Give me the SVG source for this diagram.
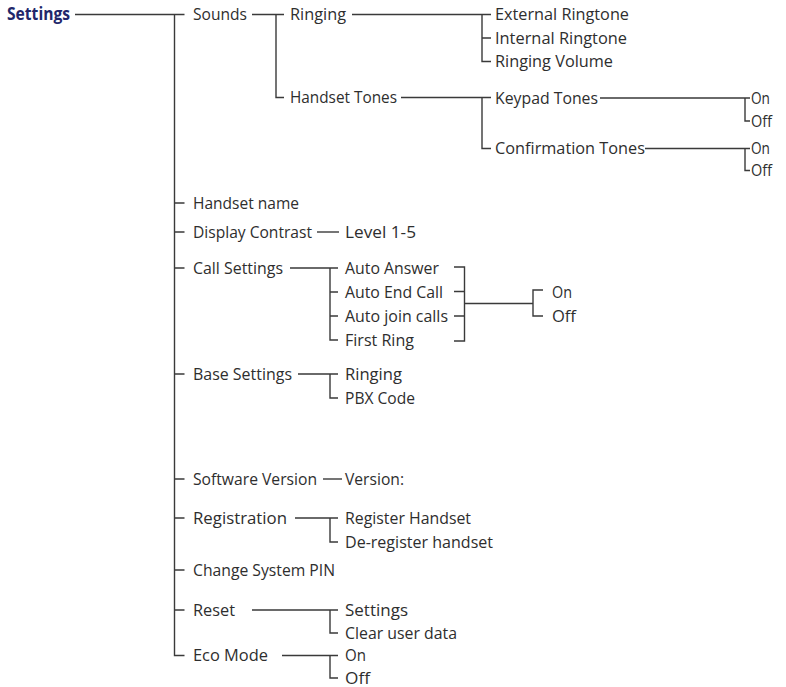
<svg xmlns="http://www.w3.org/2000/svg" width="786" height="687" viewBox="0 0 786 687">
<style>
text{font-family:"Open Sans","Noto Sans","Liberation Sans",sans-serif;font-size:17.2px;fill:#2e2e2e}
.root{font-weight:bold;fill:#22276a}
.c{fill:none;stroke:#3a3a3a;stroke-width:1.4}
</style>
<rect width="786" height="687" fill="#ffffff"/>
<g id="connectors" class="c">
<path d="M75 14.5H184.5M174.5 14.5V655.5H184.5M174.5 203H184.5M174.5 232H184.5M174.5 268H184.5M174.5 374H184.5M174.5 479H184.5M174.5 518H184.5M174.5 570H184.5M174.5 610H184.5"/>
<path d="M252 14.5H284M276 14.5V97.5H284"/>
<path d="M352 14.5H491M482 14.5V61.5H491M482 38H491"/>
<path d="M401 97.5H491M482 97.5V148.5H491"/>
<path d="M600 98H750M745 98V121H750"/>
<path d="M645 148.5H750M745 148.5V170.5H750"/>
<path d="M317 232H339"/>
<path d="M290 268H338M330 268V340H338M330 292H338M330 316H338"/>
<path d="M454 267H464.5V341H454M454 291.5H464.5M454 316H464.5M464.5 303.5H533M543 290H533V316H543"/>
<path d="M298 374H338M330 374V398H338"/>
<path d="M323 479H342"/>
<path d="M295 518H338M330 518V542H338"/>
<path d="M252 610H338M330 610V633H338"/>
<path d="M282 655.5H338M330 655.5V678H338"/>
</g>
<g id="n-settings"><text class="root" x="7" y="20" textLength="63" lengthAdjust="spacingAndGlyphs">Settings</text></g>
<g id="n-sounds"><text x="193" y="20" textLength="54" lengthAdjust="spacingAndGlyphs">Sounds</text></g>
<g id="n-ringing"><text x="290" y="20" textLength="56" lengthAdjust="spacingAndGlyphs">Ringing</text></g>
<g id="n-handset-tones"><text x="290" y="103" textLength="107" lengthAdjust="spacingAndGlyphs">Handset Tones</text></g>
<g id="n-external-ringtone"><text x="495" y="20" textLength="134" lengthAdjust="spacingAndGlyphs">External Ringtone</text></g>
<g id="n-internal-ringtone"><text x="495" y="43.5" textLength="132" lengthAdjust="spacingAndGlyphs">Internal Ringtone</text></g>
<g id="n-ringing-volume"><text x="495" y="67" textLength="118" lengthAdjust="spacingAndGlyphs">Ringing Volume</text></g>
<g id="n-keypad-tones"><text x="495" y="103.5" textLength="103" lengthAdjust="spacingAndGlyphs">Keypad Tones</text></g>
<g id="n-confirmation-tones"><text x="495" y="154" textLength="150" lengthAdjust="spacingAndGlyphs">Confirmation Tones</text></g>
<g id="n-keypad-on"><text x="751" y="103.5" textLength="19" lengthAdjust="spacingAndGlyphs">On</text></g>
<g id="n-keypad-off"><text x="751" y="126.5" textLength="21" lengthAdjust="spacingAndGlyphs">Off</text></g>
<g id="n-confirm-on"><text x="751" y="154" textLength="19" lengthAdjust="spacingAndGlyphs">On</text></g>
<g id="n-confirm-off"><text x="751" y="176" textLength="21" lengthAdjust="spacingAndGlyphs">Off</text></g>
<g id="n-handset-name"><text x="193" y="208.5" textLength="106" lengthAdjust="spacingAndGlyphs">Handset name</text></g>
<g id="n-display-contrast"><text x="193" y="237.5" textLength="119" lengthAdjust="spacingAndGlyphs">Display Contrast</text></g>
<g id="n-level"><text x="345" y="237.5" textLength="71" lengthAdjust="spacingAndGlyphs">Level 1-5</text></g>
<g id="n-call-settings"><text x="193" y="273.5" textLength="90" lengthAdjust="spacingAndGlyphs">Call Settings</text></g>
<g id="n-auto-answer"><text x="345" y="273.5" textLength="94" lengthAdjust="spacingAndGlyphs">Auto Answer</text></g>
<g id="n-auto-end-call"><text x="345" y="297.5" textLength="98" lengthAdjust="spacingAndGlyphs">Auto End Call</text></g>
<g id="n-auto-join-calls"><text x="345" y="321.5" textLength="103" lengthAdjust="spacingAndGlyphs">Auto join calls</text></g>
<g id="n-first-ring"><text x="345" y="345.5" textLength="69" lengthAdjust="spacingAndGlyphs">First Ring</text></g>
<g id="n-call-on"><text x="552" y="297.5" textLength="20" lengthAdjust="spacingAndGlyphs">On</text></g>
<g id="n-call-off"><text x="552" y="321.5" textLength="24" lengthAdjust="spacingAndGlyphs">Off</text></g>
<g id="n-base-settings"><text x="193" y="379.5" textLength="99" lengthAdjust="spacingAndGlyphs">Base Settings</text></g>
<g id="n-base-ringing"><text x="345" y="379.5" textLength="57" lengthAdjust="spacingAndGlyphs">Ringing</text></g>
<g id="n-pbx-code"><text x="345" y="403.5" textLength="70" lengthAdjust="spacingAndGlyphs">PBX Code</text></g>
<g id="n-software-version"><text x="193" y="484.5" textLength="124" lengthAdjust="spacingAndGlyphs">Software Version</text></g>
<g id="n-version"><text x="345" y="484.5" textLength="59" lengthAdjust="spacingAndGlyphs">Version:</text></g>
<g id="n-registration"><text x="193" y="523.5" textLength="94" lengthAdjust="spacingAndGlyphs">Registration</text></g>
<g id="n-register-handset"><text x="345" y="523.5" textLength="126" lengthAdjust="spacingAndGlyphs">Register Handset</text></g>
<g id="n-deregister-handset"><text x="345" y="547.5" textLength="148" lengthAdjust="spacingAndGlyphs">De-register handset</text></g>
<g id="n-change-pin"><text x="193" y="575.5" textLength="142" lengthAdjust="spacingAndGlyphs">Change System PIN</text></g>
<g id="n-reset"><text x="193" y="615.5" textLength="42" lengthAdjust="spacingAndGlyphs">Reset</text></g>
<g id="n-reset-settings"><text x="345" y="615.5" textLength="63" lengthAdjust="spacingAndGlyphs">Settings</text></g>
<g id="n-clear-user-data"><text x="345" y="638.5" textLength="112" lengthAdjust="spacingAndGlyphs">Clear user data</text></g>
<g id="n-eco-mode"><text x="193" y="661" textLength="75" lengthAdjust="spacingAndGlyphs">Eco Mode</text></g>
<g id="n-eco-on"><text x="345" y="661" textLength="21" lengthAdjust="spacingAndGlyphs">On</text></g>
<g id="n-eco-off"><text x="345" y="683.5" textLength="25" lengthAdjust="spacingAndGlyphs">Off</text></g>
</svg>
